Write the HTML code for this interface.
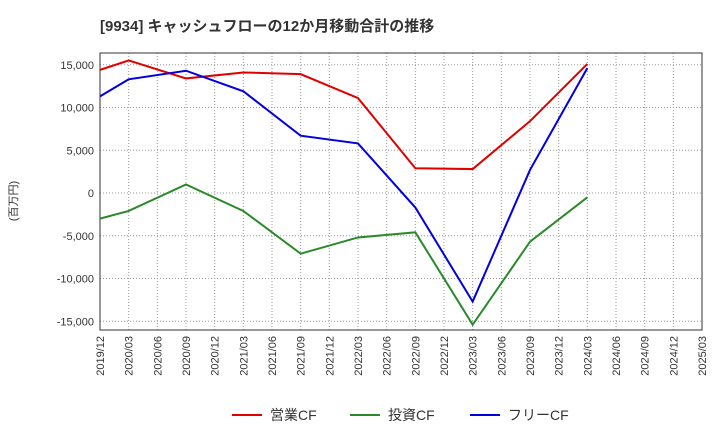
<!DOCTYPE html>
<html><head><meta charset="utf-8"><style>
body{margin:0;background:#fff;font-family:"Liberation Sans","Noto Sans CJK JP",sans-serif;}
</style></head><body>
<svg id="c" width="720" height="440" xmlns="http://www.w3.org/2000/svg">
<text x="100" y="31" font-size="15" font-weight="bold" fill="#333">[9934]  キャッシュフローの12か月移動合計の推移</text>
<text transform="translate(17,201) rotate(-90)" font-size="11" fill="#333" text-anchor="middle">(百万円)</text>
<g id="grid"></g><g id="axes"></g><g id="series"></g><g id="legend"></g>
</svg>
<script>
const categories=["2019/12","2020/03","2020/06","2020/09","2020/12","2021/03","2021/06","2021/09","2021/12","2022/03","2022/06","2022/09","2022/12","2023/03","2023/06","2023/09","2023/12","2024/03","2024/06","2024/09","2024/12","2025/03"];
const yTicks=[15000,10000,5000,0,-5000,-10000,-15000];
const opDates=["2019/12","2020/03","2020/09","2021/03","2021/09","2022/03","2022/09","2023/03","2023/09","2024/03"];
const opCF=[14400,15500,13400,14100,13900,11100,2900,2800,8400,15100];
const invCF=[-3000,-2100,1000,-2100,-7100,-5200,-4600,-15400,-5700,-500];
const freeCF=[11300,13300,14300,11900,6700,5800,-1700,-12700,2700,14600];
const NS="http://www.w3.org/2000/svg";
const L=100,R=702,T=53,B=330;
const x=c=>L+categories.indexOf(c)*(R-L)/(categories.length-1);
const y=v=>193-v*0.00855;
function mk(tag,attrs,parent){const e=document.createElementNS(NS,tag);for(const k in attrs)e.setAttribute(k,attrs[k]);parent.appendChild(e);return e;}
const grid=document.getElementById('grid'),axes=document.getElementById('axes'),ser=document.getElementById('series'),leg=document.getElementById('legend');
categories.forEach(c=>{const l=mk('line',{x1:x(c),x2:x(c),y1:T,y2:B,stroke:'#999','stroke-dasharray':'1,2'},grid);


const t=mk('text',{transform:`translate(${x(c)+4},${B+6}) rotate(-90)`,'font-size':'11',fill:'#333','text-anchor':'end'},axes);t.textContent=c;

});
yTicks.forEach(v=>{const l=mk('line',{x1:L,x2:R,y1:y(v),y2:y(v),stroke:'#999','stroke-dasharray':'1,2'},grid);


const t=mk('text',{x:L-6,y:y(v)+4,'font-size':'11',fill:'#333','text-anchor':'end'},axes);t.textContent=v.toLocaleString('en-US');

});
const fr=mk('rect',{x:L,y:T,width:R-L,height:B-T,fill:'none',stroke:'#333'},axes);


const series=[[opCF,'#e00000','operating-cf-line','営業CF'],[invCF,'#2a8a2a','investing-cf-line','投資CF'],[freeCF,'#0000e0','free-cf-line','フリーCF']];
series.forEach(([d,col,name])=>{const p=mk('polyline',{points:d.map((v,i)=>x(opDates[i])+','+y(v)).join(' '),fill:'none',stroke:col,'stroke-width':2},ser);

});
const lx=[232,350,470];
series.forEach(([d,col,name,lab],i)=>{const g=mk('g',{},leg);


mk('line',{x1:lx[i],x2:lx[i]+30,y1:415,y2:415,stroke:col,'stroke-width':2},g);
const t=mk('text',{x:lx[i]+38,y:420,'font-size':'14',fill:'#333'},g);t.textContent=lab;});
</script>
</body></html>
